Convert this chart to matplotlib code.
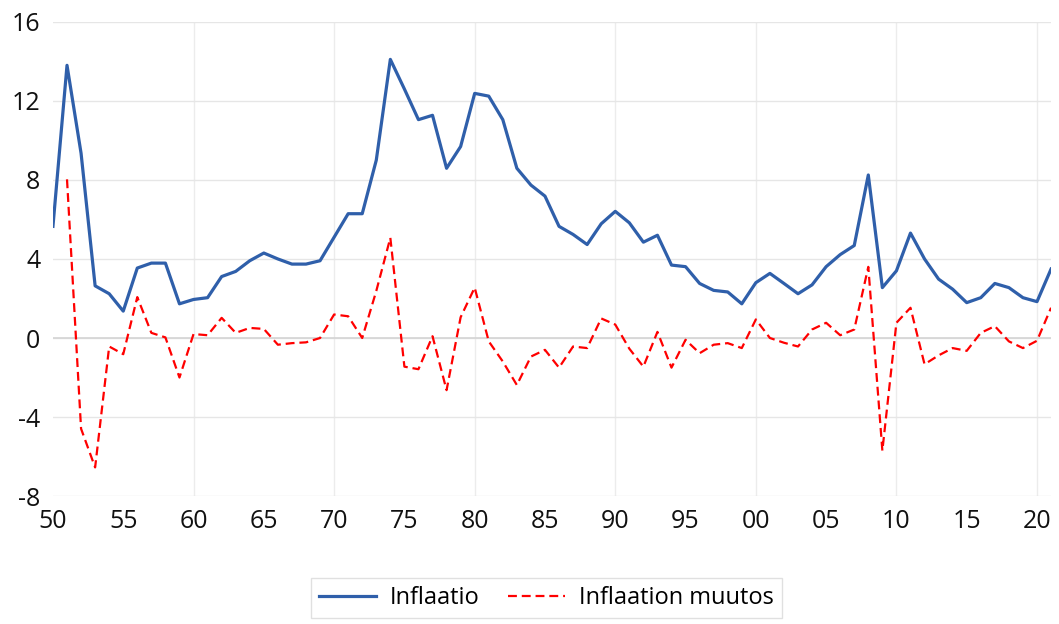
import matplotlib.pyplot as plt
from matplotlib.ticker import MultipleLocator, FuncFormatter

years = list(range(1950, 2022))
inflaatio = [5.65, 13.8, 9.35, 2.64, 2.24, 1.36, 3.54, 3.79, 3.79, 1.73,
             1.95, 2.04, 3.11, 3.37, 3.91, 4.30, 4.00, 3.74, 3.74, 3.91,
             5.10, 6.29, 6.29, 9.00, 14.1, 12.6, 11.05, 11.27, 8.59, 9.69,
             12.38, 12.24, 11.05, 8.59, 7.74, 7.18, 5.65, 5.24, 4.73, 5.78,
             6.41, 5.83, 4.85, 5.20, 3.69, 3.61, 2.76, 2.41, 2.33, 1.73,
             2.80, 3.27, 2.76, 2.24, 2.69, 3.61, 4.22, 4.68, 8.25, 2.55,
             3.40, 5.31, 4.00, 2.98, 2.47, 1.79, 2.04, 2.76, 2.55, 2.04,
             1.84, 3.49]
muutos_years = list(range(1951, 2022))
muutos = [8.03, -4.59, -6.55, -0.43, -0.82, 2.07, 0.26, 0.03, -2.00,
          0.20, 0.14, 1.02, 0.26, 0.51, 0.46, -0.34, -0.26, -0.22, 0.00,
          1.19, 1.10, 0.00, 2.38, 5.07, -1.45, -1.58, 0.09, -2.64, 1.05,
          2.55, -0.17, -1.19, -2.38, -0.94, -0.60, -1.50, -0.43, -0.51, 0.99,
          0.68, -0.54, -1.45, 0.31, -1.50, -0.09, -0.77, -0.34, -0.26, -0.51,
          0.94, 0.00, -0.24, -0.43, 0.43, 0.77, 0.14, 0.43, 3.60, -5.70,
          0.77, 1.53, -1.33, -0.88, -0.51, -0.65, 0.26, 0.60, -0.17, -0.51,
          -0.14, 1.53]

plt.rcParams['font.family'] = ['Open Sans', 'DejaVu Sans']
plt.rcParams['axes.unicode_minus'] = False

fig = plt.figure(figsize=(10.59, 6.24), dpi=100)
ax = fig.add_axes([0.05, 0.205, 0.9425, 0.76])

ax.plot(years, inflaatio, color='#2F5FAA', lw=2.3, label='Inflaatio')
ax.plot(muutos_years, muutos, color='#FF0000', lw=1.6, ls=(0, (4, 2.2)),
        label='Inflaation muutos')

ax.set_xlim(1950, 2021)
ax.set_ylim(-8, 16)
ax.yaxis.set_major_locator(MultipleLocator(4))
ax.xaxis.set_major_locator(MultipleLocator(5))
ax.xaxis.set_major_formatter(FuncFormatter(lambda v, p: '%02d' % (int(v) % 100)))

ax.grid(axis='y', color='#e6e6e6', lw=1)
ax.grid(axis='x', color='#ececec', lw=1)
# vertical grid only every ten years
for loc, gl in zip(ax.get_xticks(), ax.get_xgridlines()):
    if int(round(loc)) % 10 != 0 or loc <= 1950:
        gl.set_visible(False)
ax.axhline(0, color='#d4d4d4', lw=1.2, zorder=1)
ax.set_axisbelow(True)
for s in ax.spines.values():
    s.set_visible(False)
ax.tick_params(length=0, which='both', labelsize=18, colors='#111111')
ax.tick_params(axis='x', pad=9)
ax.tick_params(axis='y', pad=9)

leg = fig.legend(loc='center', bbox_to_anchor=(0.516, 0.042), ncol=2,
                 fontsize=17, frameon=True, fancybox=False, handlelength=2.4,
                 columnspacing=1.2, borderpad=0.35, handletextpad=0.6)
leg.get_frame().set_edgecolor('#d9d9d9')
leg.get_frame().set_linewidth(1)

fig.savefig('out.png', dpi=100)
